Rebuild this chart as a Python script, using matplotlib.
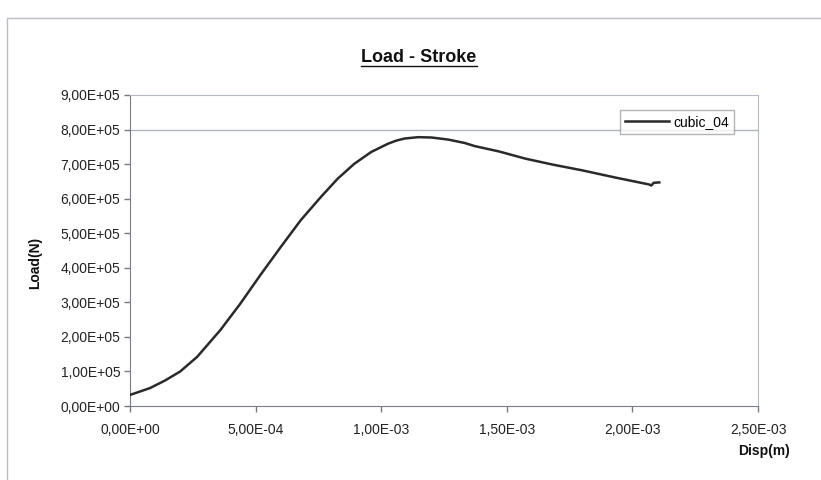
import matplotlib.pyplot as plt
from matplotlib.ticker import FuncFormatter
from matplotlib.lines import Line2D
from matplotlib.patches import Rectangle

plt.rcParams['font.family'] = ['Liberation Sans', 'DejaVu Sans']

# load-stroke curve, displacement in m, load in N
disp = [0.0, 0.8e-4, 1.4e-4, 2.0e-4, 2.67e-4, 3.6e-4, 4.4e-4, 5.2e-4, 6.0e-4,
        6.8e-4, 7.6e-4, 8.27e-4, 8.93e-4, 9.6e-4, 10.27e-4, 10.6e-4, 10.93e-4,
        11.47e-4, 12.0e-4, 12.67e-4, 13.33e-4, 13.73e-4, 14.67e-4, 15.73e-4,
        16.8e-4, 18.0e-4, 19.33e-4, 20.67e-4, 20.75e-4, 20.85e-4, 21.07e-4]
load = [0.32e5, 0.52e5, 0.74e5, 1.0e5, 1.42e5, 2.2e5, 2.97e5, 3.8e5, 4.6e5,
        5.38e5, 6.05e5, 6.58e5, 7.01e5, 7.35e5, 7.59e5, 7.68e5, 7.74e5,
        7.78e5, 7.77e5, 7.71e5, 7.61e5, 7.52e5, 7.37e5, 7.16e5,
        6.99e5, 6.82e5, 6.61e5, 6.41e5, 6.38e5, 6.46e5, 6.47e5]

xticks = [0, 5e-4, 1e-3, 1.5e-3, 2e-3, 2.5e-3]
yticks = [i * 1e5 for i in range(10)]


def sci_comma(v, _):
    s = f'{v:.2E}'
    return s.replace('.', ',')


fig = plt.figure(figsize=(8.21, 4.8), dpi=100)
ax = fig.add_axes([130 / 821, 1 - 406 / 480, 628 / 821, 311 / 480])

# outer chart frame
fig.add_artist(Rectangle((7 / 821, -0.01), 1.0, 1 - 18 / 480 + 0.01,
                         transform=fig.transFigure, fill=False,
                         edgecolor='#b8bcc8', linewidth=1.0))

ax.axhline(8e5, color='#b0b4bc', linewidth=1.0, zorder=1)
ax.plot(disp, load, color='#2a2a2a', linewidth=1.8, label='cubic_04', zorder=3)

ax.set_xlim(0, 2.5e-3)
ax.set_ylim(0, 9e5)
ax.set_xticks(xticks)
ax.set_yticks(yticks)
ax.xaxis.set_major_formatter(FuncFormatter(sci_comma))
ax.yaxis.set_major_formatter(FuncFormatter(sci_comma))
ax.tick_params(axis='both', labelsize=10, colors='#7a7a82', labelcolor='#222222',
               length=4, width=1)
ax.tick_params(axis='x', pad=8)
ax.tick_params(axis='y', pad=3)

for side in ['left', 'bottom']:
    ax.spines[side].set_color('#7a7e8c')
for side in ['top', 'right']:
    ax.spines[side].set_color('#b4b8c4')

leg = ax.legend(loc='upper right', bbox_to_anchor=((734 - 130) / 628, (406 - 110) / 311),
                fontsize=10, frameon=True, fancybox=False, handlelength=3.2,
                handletextpad=0.3, borderpad=0.35, borderaxespad=0)
leg.get_frame().set_edgecolor('#a0a0a8')
leg.get_frame().set_linewidth(1.0)

title = fig.text(419 / 821, 1 - 57 / 480, 'Load - Stroke', ha='center', va='center',
                 fontsize=13, fontweight='bold', color='#111111')
fig.text(35 / 821, 1 - 263 / 480, 'Load(N)', ha='center', va='center',
         rotation=90, fontsize=10, fontweight='bold', color='#111111')
fig.text(764 / 821, 1 - 451 / 480, 'Disp(m)', ha='center', va='center',
         fontsize=10, fontweight='bold', color='#111111')

# underline the title
fig.canvas.draw()
bb = title.get_window_extent().transformed(fig.transFigure.inverted())
fig.add_artist(Line2D([bb.x0, bb.x1], [bb.y0 - 0.002, bb.y0 - 0.002],
                      transform=fig.transFigure, color='#111111', linewidth=1.0))

fig.savefig('out.png', dpi=100)
